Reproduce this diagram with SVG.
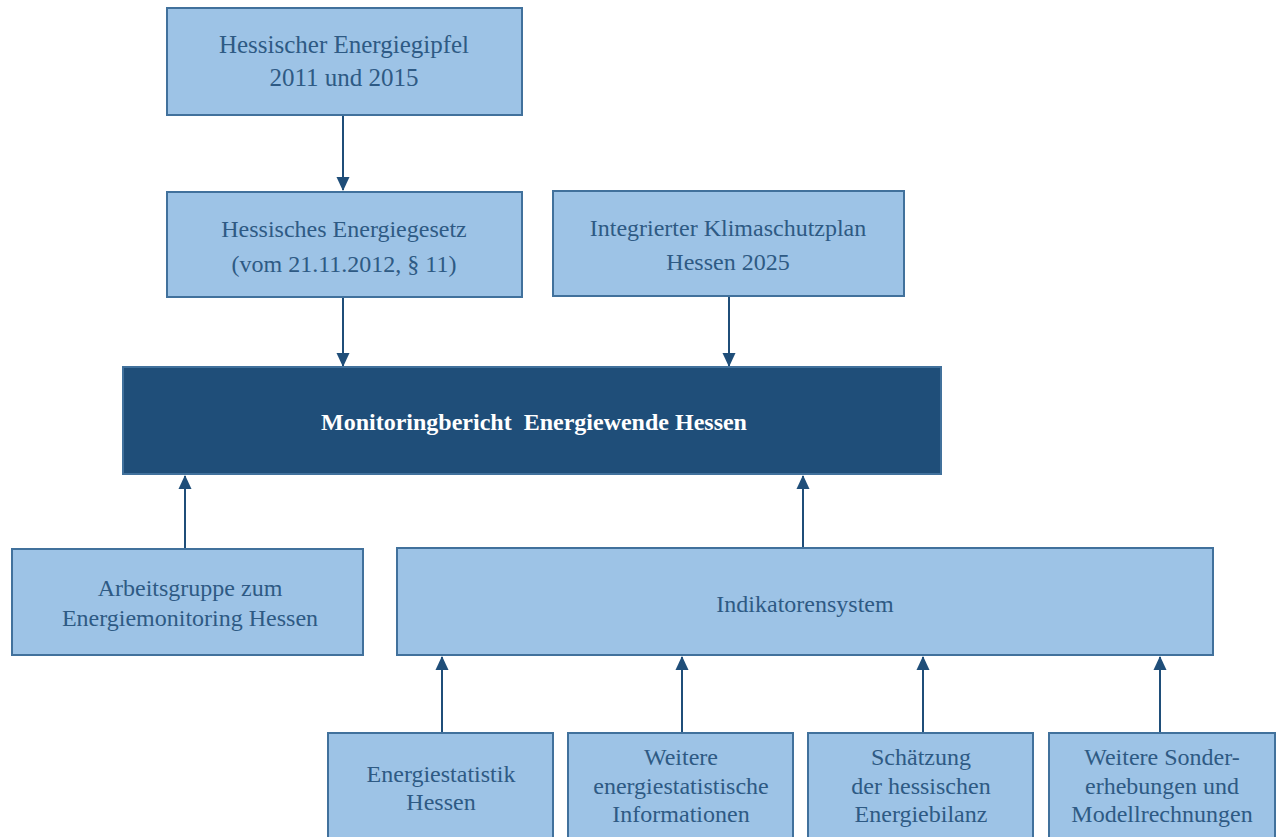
<svg xmlns="http://www.w3.org/2000/svg" width="1277" height="837" viewBox="0 0 1277 837">
<defs>
<style>
.box{fill:#9DC3E6;stroke:#41719C;stroke-width:2}
.main{fill:#1F4E79;stroke:#41719C;stroke-width:2}
.t{font-family:'Times New Roman','Liberation Serif','DejaVu Serif','Noto Serif',serif;font-size:24px;fill:#2E5A84;text-anchor:middle}
.tm{font-family:'Times New Roman','Liberation Serif','DejaVu Serif','Noto Serif',serif;font-size:24px;font-weight:bold;fill:#FFFFFF;text-anchor:middle;white-space:pre}
.c{stroke:#1F4E79;stroke-width:2;fill:none;marker-end:url(#ah)}
</style>
<marker id="ah" viewBox="0 0 14 14" refX="13" refY="7" markerWidth="14" markerHeight="14" markerUnits="userSpaceOnUse" orient="auto">
<path d="M0,0.5 L14,7 L0,13.5 z" fill="#1F4E79"/>
</marker>
</defs>
<rect width="1277" height="837" fill="#FFFFFF"/>
<g id="connectors">
<line class="c" x1="343" y1="115" x2="343" y2="190"/>
<line class="c" x1="343" y1="297" x2="343" y2="366"/>
<line class="c" x1="729" y1="296" x2="729" y2="366"/>
<line class="c" x1="185" y1="548" x2="185" y2="476"/>
<line class="c" x1="803" y1="548" x2="803" y2="476"/>
<line class="c" x1="442" y1="733" x2="442" y2="657"/>
<line class="c" x1="682" y1="733" x2="682" y2="657"/>
<line class="c" x1="923" y1="733" x2="923" y2="657"/>
<line class="c" x1="1160" y1="733" x2="1160" y2="657"/>
</g>
<g id="n1"><rect class="box" x="167" y="8" width="355" height="107"/>
<text class="t" x="344" y="53" style="font-size:25px">Hessischer Energiegipfel</text><text class="t" x="344" y="86" style="font-size:25px">2011 und 2015</text></g>
<g id="n2"><rect class="box" x="167" y="192" width="355" height="105"/>
<text class="t" x="344" y="237">Hessisches Energiegesetz</text><text class="t" x="344" y="272">(vom 21.11.2012, § 11)</text></g>
<g id="n3"><rect class="box" x="553" y="191" width="351" height="105"/>
<text class="t" x="728" y="236">Integrierter Klimaschutzplan</text><text class="t" x="728" y="270">Hessen 2025</text></g>
<g id="n4"><rect class="main" x="123" y="367" width="818" height="107"/>
<text class="tm" x="534" y="430" xml:space="preserve">Monitoringbericht  Energiewende Hessen</text></g>
<g id="n5"><rect class="box" x="12" y="549" width="351" height="106"/>
<text class="t" x="190" y="596">Arbeitsgruppe zum</text><text class="t" x="190" y="626">Energiemonitoring Hessen</text></g>
<g id="n6"><rect class="box" x="397" y="548" width="816" height="107"/>
<text class="t" x="805" y="612">Indikatorensystem</text></g>
<g id="n7"><rect class="box" x="328" y="733" width="225" height="110"/>
<text class="t" x="441" y="782">Energiestatistik</text><text class="t" x="441" y="810">Hessen</text></g>
<g id="n8"><rect class="box" x="568" y="733" width="225" height="110"/>
<text class="t" x="681" y="765">Weitere</text><text class="t" x="681" y="794">energiestatistische</text><text class="t" x="681" y="822">Informationen</text></g>
<g id="n9"><rect class="box" x="808" y="733" width="225" height="110"/>
<text class="t" x="921" y="765">Schätzung</text><text class="t" x="921" y="794">der hessischen</text><text class="t" x="921" y="822">Energiebilanz</text></g>
<g id="n10"><rect class="box" x="1049" y="733" width="226" height="110"/>
<text class="t" x="1162" y="765">Weitere Sonder-</text><text class="t" x="1162" y="794">erhebungen und</text><text class="t" x="1162" y="822">Modellrechnungen</text></g>
</svg>
